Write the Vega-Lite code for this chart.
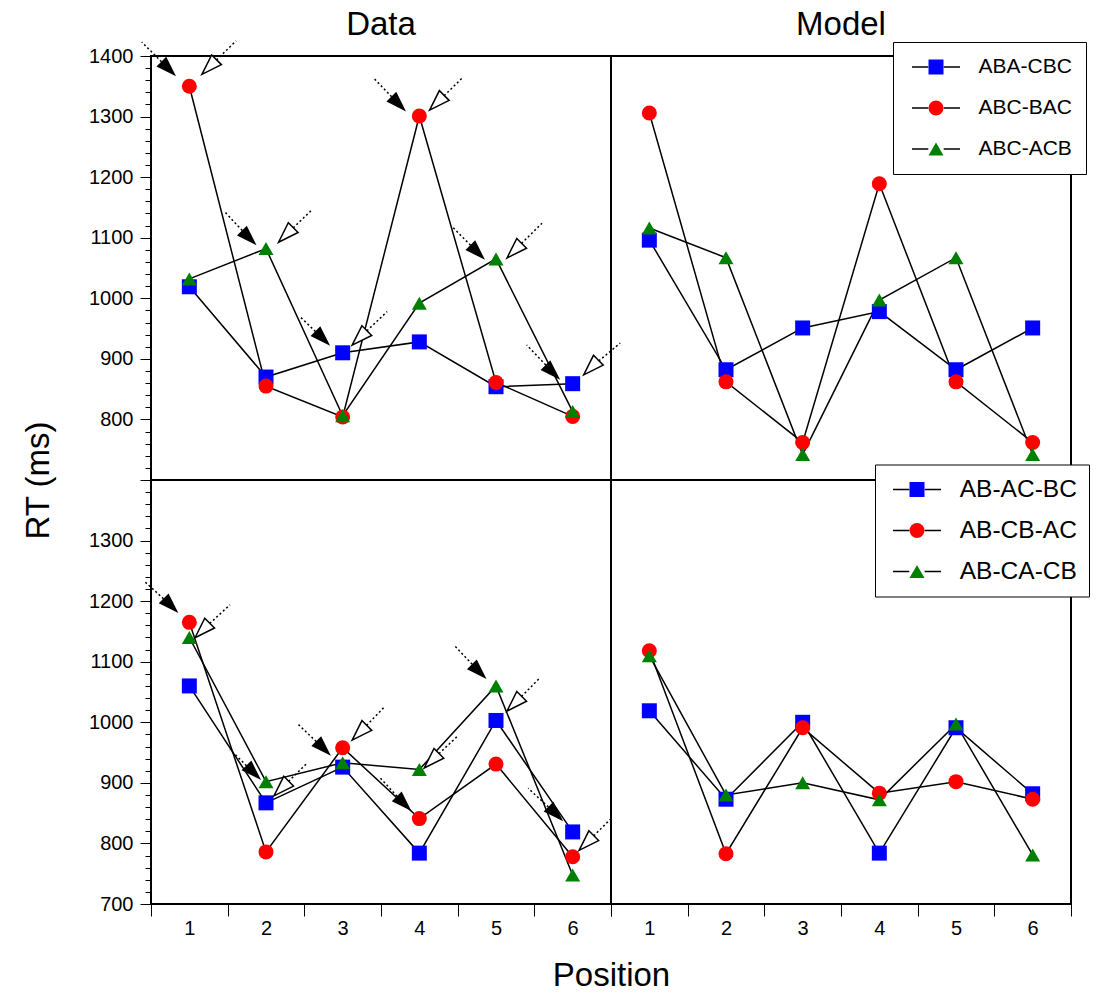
{
  "$schema": "https://vega.github.io/schema/vega-lite/v6.json",
  "padding": {"left": 21, "top": 7, "right": 5, "bottom": 10},
  "background": "white",
  "config": {
    "font": "Liberation Sans",
    "view": {"stroke": "black", "strokeWidth": 2},
    "axis": {"labelColor": "black", "tickColor": "black", "titleColor": "black", "grid": false, "domain": false, "labelFont": "Liberation Sans", "titleFont": "Liberation Sans", "titleFontWeight": "normal", "tickWidth": 1, "labelOverlap": false, "labelBound": false, "labelFlush": false},
    "title": {"font": "Liberation Sans", "fontWeight": "normal", "fontSize": 33, "color": "black"},
    "legend": {"labelFont": "Liberation Sans", "labelColor": "black"}
  },
  "datasets": {
    "topData": [
      {"series": "ABA-CBC", "pos": 1, "rt": 1019}, {"series": "ABA-CBC", "pos": 2, "rt": 870}, {"series": "ABA-CBC", "pos": 3, "rt": 910},
      {"series": "ABA-CBC", "pos": 4, "rt": 928}, {"series": "ABA-CBC", "pos": 5, "rt": 854}, {"series": "ABA-CBC", "pos": 6, "rt": 859},
      {"series": "ABC-BAC", "pos": 1, "rt": 1350}, {"series": "ABC-BAC", "pos": 2, "rt": 855}, {"series": "ABC-BAC", "pos": 3, "rt": 804},
      {"series": "ABC-BAC", "pos": 4, "rt": 1301}, {"series": "ABC-BAC", "pos": 5, "rt": 861}, {"series": "ABC-BAC", "pos": 6, "rt": 805},
      {"series": "ABC-ACB", "pos": 1, "rt": 1032}, {"series": "ABC-ACB", "pos": 2, "rt": 1082}, {"series": "ABC-ACB", "pos": 3, "rt": 806},
      {"series": "ABC-ACB", "pos": 4, "rt": 992}, {"series": "ABC-ACB", "pos": 5, "rt": 1065}, {"series": "ABC-ACB", "pos": 6, "rt": 813}
    ],
    "topModel": [
      {"series": "ABA-CBC", "pos": 1, "rt": 1096}, {"series": "ABA-CBC", "pos": 2, "rt": 882}, {"series": "ABA-CBC", "pos": 3, "rt": 951},
      {"series": "ABA-CBC", "pos": 4, "rt": 978}, {"series": "ABA-CBC", "pos": 5, "rt": 882}, {"series": "ABA-CBC", "pos": 6, "rt": 951},
      {"series": "ABC-BAC", "pos": 1, "rt": 1306}, {"series": "ABC-BAC", "pos": 2, "rt": 862}, {"series": "ABC-BAC", "pos": 3, "rt": 762},
      {"series": "ABC-BAC", "pos": 4, "rt": 1189}, {"series": "ABC-BAC", "pos": 5, "rt": 862}, {"series": "ABC-BAC", "pos": 6, "rt": 762},
      {"series": "ABC-ACB", "pos": 1, "rt": 1116}, {"series": "ABC-ACB", "pos": 2, "rt": 1067}, {"series": "ABC-ACB", "pos": 3, "rt": 742},
      {"series": "ABC-ACB", "pos": 4, "rt": 997}, {"series": "ABC-ACB", "pos": 5, "rt": 1067}, {"series": "ABC-ACB", "pos": 6, "rt": 742}
    ],
    "botData": [
      {"series": "AB-AC-BC", "pos": 1, "rt": 1060}, {"series": "AB-AC-BC", "pos": 2, "rt": 867}, {"series": "AB-AC-BC", "pos": 3, "rt": 926},
      {"series": "AB-AC-BC", "pos": 4, "rt": 784}, {"series": "AB-AC-BC", "pos": 5, "rt": 1003}, {"series": "AB-AC-BC", "pos": 6, "rt": 819},
      {"series": "AB-CB-AC", "pos": 1, "rt": 1165}, {"series": "AB-CB-AC", "pos": 2, "rt": 786}, {"series": "AB-CB-AC", "pos": 3, "rt": 958},
      {"series": "AB-CB-AC", "pos": 4, "rt": 841}, {"series": "AB-CB-AC", "pos": 5, "rt": 931}, {"series": "AB-CB-AC", "pos": 6, "rt": 778},
      {"series": "AB-CA-CB", "pos": 1, "rt": 1140}, {"series": "AB-CA-CB", "pos": 2, "rt": 902}, {"series": "AB-CA-CB", "pos": 3, "rt": 933},
      {"series": "AB-CA-CB", "pos": 4, "rt": 922}, {"series": "AB-CA-CB", "pos": 5, "rt": 1060}, {"series": "AB-CA-CB", "pos": 6, "rt": 748}
    ],
    "botModel": [
      {"series": "AB-AC-BC", "pos": 1, "rt": 1019}, {"series": "AB-AC-BC", "pos": 2, "rt": 873}, {"series": "AB-AC-BC", "pos": 3, "rt": 1000},
      {"series": "AB-AC-BC", "pos": 4, "rt": 784}, {"series": "AB-AC-BC", "pos": 5, "rt": 991}, {"series": "AB-AC-BC", "pos": 6, "rt": 882},
      {"series": "AB-CB-AC", "pos": 1, "rt": 1118}, {"series": "AB-CB-AC", "pos": 2, "rt": 783}, {"series": "AB-CB-AC", "pos": 3, "rt": 991},
      {"series": "AB-CB-AC", "pos": 4, "rt": 883}, {"series": "AB-CB-AC", "pos": 5, "rt": 902}, {"series": "AB-CB-AC", "pos": 6, "rt": 873},
      {"series": "AB-CA-CB", "pos": 1, "rt": 1110}, {"series": "AB-CA-CB", "pos": 2, "rt": 880}, {"series": "AB-CA-CB", "pos": 3, "rt": 900},
      {"series": "AB-CA-CB", "pos": 4, "rt": 872}, {"series": "AB-CA-CB", "pos": 5, "rt": 997}, {"series": "AB-CA-CB", "pos": 6, "rt": 781}
    ],
    "arrowsTop": [
      {"kind": "filled", "x": 0.72, "y": 1380, "tx": 0.38, "ty": 1423},
      {"kind": "filled", "x": 1.77, "y": 1101, "tx": 1.46, "ty": 1143},
      {"kind": "filled", "x": 2.73, "y": 935, "tx": 2.44, "ty": 970},
      {"kind": "filled", "x": 3.72, "y": 1322, "tx": 3.4, "ty": 1364},
      {"kind": "filled", "x": 4.75, "y": 1077, "tx": 4.43, "ty": 1118},
      {"kind": "filled", "x": 5.73, "y": 879, "tx": 5.4, "ty": 923},
      {"kind": "open", "x": 1.27, "y": 1383, "tx": 1.61, "ty": 1425},
      {"kind": "open", "x": 2.27, "y": 1106, "tx": 2.6, "ty": 1146},
      {"kind": "open", "x": 3.23, "y": 936, "tx": 3.58, "ty": 978},
      {"kind": "open", "x": 4.24, "y": 1324, "tx": 4.57, "ty": 1365},
      {"kind": "open", "x": 5.25, "y": 1080, "tx": 5.6, "ty": 1124},
      {"kind": "open", "x": 6.25, "y": 887, "tx": 6.62, "ty": 926}
    ],
    "arrowsBot": [
      {"kind": "filled", "x": 0.75, "y": 1194, "tx": 0.42, "ty": 1232},
      {"kind": "filled", "x": 1.83, "y": 918, "tx": 1.53, "ty": 955},
      {"kind": "filled", "x": 2.74, "y": 958, "tx": 2.4, "ty": 999},
      {"kind": "filled", "x": 3.79, "y": 867, "tx": 3.49, "ty": 908},
      {"kind": "filled", "x": 4.77, "y": 1085, "tx": 4.47, "ty": 1125},
      {"kind": "filled", "x": 5.77, "y": 850, "tx": 5.42, "ty": 891},
      {"kind": "open", "x": 1.18, "y": 1153, "tx": 1.53, "ty": 1194},
      {"kind": "open", "x": 2.21, "y": 892, "tx": 2.54, "ty": 933},
      {"kind": "open", "x": 3.23, "y": 984, "tx": 3.55, "ty": 1026},
      {"kind": "open", "x": 4.17, "y": 938, "tx": 4.49, "ty": 976},
      {"kind": "open", "x": 5.25, "y": 1032, "tx": 5.57, "ty": 1073},
      {"kind": "open", "x": 6.19, "y": 802, "tx": 6.51, "ty": 842}
    ]
  },
  "columns": 2,
  "spacing": 0,
  "bounds": "flush",
  "resolve": {"scale": {"x": "independent", "y": "independent", "fill": "independent", "shape": "independent", "stroke": "independent"}},
  "concat": [
    {
      "width": 460, "height": 424,
      "title": {"text": "Data", "offset": -2},
      "resolve": {"axis": {"x": "independent", "y": "independent"}},
      "layer": [
        {
          "data": {"name": "topData"},
          "mark": {"type": "line", "color": "black", "strokeWidth": 1.5},
          "encoding": {
            "x": {"field": "pos", "type": "quantitative", "scale": {"domain": [0.5, 6.5], "nice": false, "zero": false}, "axis": null},
            "y": {"field": "rt", "type": "quantitative", "scale": {"domain": [700, 1400], "nice": false, "zero": false},
              "axis": {"orient": "left", "values": [700, 720, 740, 760, 780, 800, 820, 840, 860, 880, 900, 920, 940, 960, 980, 1000, 1020, 1040, 1060, 1080, 1100, 1120, 1140, 1160, 1180, 1200, 1220, 1240, 1260, 1280, 1300, 1320, 1340, 1360, 1380, 1400], "labels": false, "tickSize": 6, "title": null}},
            "detail": {"field": "series"}
          }
        },
        {
          "data": {"name": "topData"},
          "mark": {"type": "point", "filled": true, "opacity": 1, "size": 225},
          "encoding": {
            "x": {"field": "pos", "type": "quantitative", "scale": {"domain": [0.5, 6.5], "nice": false, "zero": false}, "axis": null},
            "y": {"field": "rt", "type": "quantitative", "scale": {"domain": [700, 1400], "nice": false, "zero": false},
              "axis": {"orient": "left", "values": [800, 900, 1000, 1100, 1200, 1300, 1400], "format": "d", "tickSize": 11, "labelFontSize": 20, "labelPadding": 7,
                "title": "RT (ms)", "titleFontSize": 33, "titleX": -113, "titleY": 424, "titleBaseline": "middle", "titleAngle": -90, "titleAlign": "center"}},
            "fill": {"field": "series", "type": "nominal", "scale": {"domain": ["ABA-CBC", "ABC-BAC", "ABC-ACB"], "range": ["#0000ff", "#ff0000", "#008000"]}, "legend": null},
            "shape": {"field": "series", "type": "nominal", "scale": {"domain": ["ABA-CBC", "ABC-BAC", "ABC-ACB"], "range": ["square", "circle", "triangle-up"]}, "legend": null}
          }
        },
        {
          "data": {"name": "arrowsTop"},
          "mark": {"type": "rule", "color": "black", "strokeWidth": 1.5, "strokeDash": [2, 2.5]},
          "encoding": {
            "x": {"field": "x", "type": "quantitative", "scale": {"domain": [0.5, 6.5], "nice": false, "zero": false}, "axis": null},
            "y": {"field": "y", "type": "quantitative", "scale": {"domain": [700, 1400], "nice": false, "zero": false},
              "axis": {"orient": "left", "values": [700], "labels": false, "tickSize": 11, "title": null}},
            "x2": {"field": "tx"},
            "y2": {"field": "ty"}
          }
        },
        {
          "data": {"name": "arrowsTop"},
          "transform": [{"filter": "datum.kind === 'filled'"}],
          "mark": {"type": "point", "shape": "M0,-1L0.6,0.8L-0.6,0.8Z", "filled": true, "fill": "black", "opacity": 1, "size": 530, "angle": 135, "strokeWidth": 0},
          "encoding": {
            "x": {"field": "x", "type": "quantitative", "scale": {"domain": [0.5, 6.5], "nice": false, "zero": false}, "axis": null},
            "y": {"field": "y", "type": "quantitative", "scale": {"domain": [700, 1400], "nice": false, "zero": false}, "axis": null}
          }
        },
        {
          "data": {"name": "arrowsTop"},
          "transform": [{"filter": "datum.kind === 'open'"}],
          "mark": {"type": "point", "shape": "M0,-1L0.6,0.8L-0.6,0.8Z", "filled": true, "fill": "white", "stroke": "black", "strokeWidth": 1.5, "opacity": 1, "size": 530, "angle": 225},
          "encoding": {
            "x": {"field": "x", "type": "quantitative", "scale": {"domain": [0.5, 6.5], "nice": false, "zero": false}, "axis": null},
            "y": {"field": "y", "type": "quantitative", "scale": {"domain": [700, 1400], "nice": false, "zero": false}, "axis": null}
          }
        }
      ]
    },
    {
      "width": 460, "height": 424,
      "title": {"text": "Model", "offset": 0},
      "layer": [
        {
          "data": {"name": "topModel"},
          "mark": {"type": "line", "strokeWidth": 1.5},
          "encoding": {
            "x": {"field": "pos", "type": "quantitative", "scale": {"domain": [0.5, 6.5], "nice": false, "zero": false}, "axis": null},
            "y": {"field": "rt", "type": "quantitative", "scale": {"domain": [700, 1400], "nice": false, "zero": false}, "axis": null},
            "stroke": {"field": "series", "type": "nominal", "scale": {"range": ["black"]},
              "legend": {"orient": "none", "legendX": 286, "legendY": -14, "padding": 14, "clipHeight": 22, "title": null, "symbolType": "M-1,0H-0.32M0.32,0H1", "symbolSize": 2304, "symbolStrokeWidth": 1.5, "symbolStrokeColor": "black", "labelExpr": "''", "labelFontSize": 21, "rowPadding": 19, "zindex": 5}}
          }
        },
        {
          "data": {"name": "topModel"},
          "mark": {"type": "point", "filled": true, "opacity": 1, "size": 225},
          "encoding": {
            "x": {"field": "pos", "type": "quantitative", "scale": {"domain": [0.5, 6.5], "nice": false, "zero": false}},
            "y": {"field": "rt", "type": "quantitative", "scale": {"domain": [700, 1400], "nice": false, "zero": false}},
            "fill": {"field": "series", "type": "nominal", "scale": {"domain": ["ABA-CBC", "ABC-BAC", "ABC-ACB"], "range": ["#0000ff", "#ff0000", "#008000"]},
              "legend": {"orient": "none", "legendX": 282, "legendY": -14, "padding": 14, "clipHeight": 22, "title": null, "strokeColor": "black", "fillColor": "white", "labelFontSize": 21, "labelOffset": 32, "symbolOffset": 18.5, "rowPadding": 19, "symbolSize": 225, "symbolOpacity": 1, "symbolStrokeWidth": 0, "zindex": 4}},
            "shape": {"field": "series", "type": "nominal", "scale": {"domain": ["ABA-CBC", "ABC-BAC", "ABC-ACB"], "range": ["square", "circle", "triangle-up"]},
              "legend": {"orient": "none", "legendX": 282, "legendY": -14, "padding": 14, "clipHeight": 22, "title": null, "strokeColor": "black", "fillColor": "white", "labelFontSize": 21, "labelOffset": 32, "symbolOffset": 18.5, "rowPadding": 19, "symbolSize": 225, "symbolOpacity": 1, "symbolStrokeWidth": 0, "zindex": 4}}
          }
        }
      ]
    },
    {
      "width": 460, "height": 424,
      "resolve": {"axis": {"x": "independent", "y": "independent"}},
      "layer": [
        {
          "data": {"name": "botData"},
          "mark": {"type": "line", "color": "black", "strokeWidth": 1.5},
          "encoding": {
            "x": {"field": "pos", "type": "quantitative", "scale": {"domain": [0.5, 6.5], "nice": false, "zero": false},
              "axis": {"orient": "bottom", "values": [0.5, 1.5, 2.5, 3.5, 4.5, 5.5, 6.5], "labels": false, "tickSize": 12, "title": null}},
            "y": {"field": "rt", "type": "quantitative", "scale": {"domain": [700, 1400], "nice": false, "zero": false},
              "axis": {"orient": "left", "values": [700, 720, 740, 760, 780, 800, 820, 840, 860, 880, 900, 920, 940, 960, 980, 1000, 1020, 1040, 1060, 1080, 1100, 1120, 1140, 1160, 1180, 1200, 1220, 1240, 1260, 1280, 1300, 1320, 1340, 1360, 1380, 1400], "labels": false, "tickSize": 6, "title": null}},
            "detail": {"field": "series"}
          }
        },
        {
          "data": {"name": "botData"},
          "mark": {"type": "point", "filled": true, "opacity": 1, "size": 225},
          "encoding": {
            "x": {"field": "pos", "type": "quantitative", "scale": {"domain": [0.5, 6.5], "nice": false, "zero": false},
              "axis": {"orient": "bottom", "values": [1, 2, 3, 4, 5, 6], "format": "d", "ticks": false, "labelFontSize": 20, "labelPadding": 14,
                "title": "Position", "titleFontSize": 33, "titleX": 460, "titleY": 71, "titleBaseline": "middle", "titleAlign": "center"}},
            "y": {"field": "rt", "type": "quantitative", "scale": {"domain": [700, 1400], "nice": false, "zero": false},
              "axis": {"orient": "left", "values": [700, 800, 900, 1000, 1100, 1200, 1300], "format": "d", "tickSize": 11, "labelFontSize": 20, "labelPadding": 7, "title": null}},
            "fill": {"field": "series", "type": "nominal", "scale": {"domain": ["AB-AC-BC", "AB-CB-AC", "AB-CA-CB"], "range": ["#0000ff", "#ff0000", "#008000"]}, "legend": null},
            "shape": {"field": "series", "type": "nominal", "scale": {"domain": ["AB-AC-BC", "AB-CB-AC", "AB-CA-CB"], "range": ["square", "circle", "triangle-up"]}, "legend": null}
          }
        },
        {
          "data": {"name": "arrowsBot"},
          "mark": {"type": "rule", "color": "black", "strokeWidth": 1.5, "strokeDash": [2, 2.5]},
          "encoding": {
            "x": {"field": "x", "type": "quantitative", "scale": {"domain": [0.5, 6.5], "nice": false, "zero": false}, "axis": null},
            "y": {"field": "y", "type": "quantitative", "scale": {"domain": [700, 1400], "nice": false, "zero": false}, "axis": null},
            "x2": {"field": "tx"},
            "y2": {"field": "ty"}
          }
        },
        {
          "data": {"name": "arrowsBot"},
          "transform": [{"filter": "datum.kind === 'filled'"}],
          "mark": {"type": "point", "shape": "M0,-1L0.6,0.8L-0.6,0.8Z", "filled": true, "fill": "black", "opacity": 1, "size": 530, "angle": 135, "strokeWidth": 0},
          "encoding": {
            "x": {"field": "x", "type": "quantitative", "scale": {"domain": [0.5, 6.5], "nice": false, "zero": false}, "axis": null},
            "y": {"field": "y", "type": "quantitative", "scale": {"domain": [700, 1400], "nice": false, "zero": false}, "axis": null}
          }
        },
        {
          "data": {"name": "arrowsBot"},
          "transform": [{"filter": "datum.kind === 'open'"}],
          "mark": {"type": "point", "shape": "M0,-1L0.6,0.8L-0.6,0.8Z", "filled": true, "fill": "white", "stroke": "black", "strokeWidth": 1.5, "opacity": 1, "size": 530, "angle": 225},
          "encoding": {
            "x": {"field": "x", "type": "quantitative", "scale": {"domain": [0.5, 6.5], "nice": false, "zero": false}, "axis": null},
            "y": {"field": "y", "type": "quantitative", "scale": {"domain": [700, 1400], "nice": false, "zero": false}, "axis": null}
          }
        }
      ]
    },
    {
      "width": 460, "height": 424,
      "resolve": {"axis": {"x": "independent", "y": "independent"}},
      "layer": [
        {
          "data": {"name": "botModel"},
          "mark": {"type": "line", "strokeWidth": 1.5},
          "encoding": {
            "x": {"field": "pos", "type": "quantitative", "scale": {"domain": [0.5, 6.5], "nice": false, "zero": false},
              "axis": {"orient": "bottom", "values": [0.5, 1.5, 2.5, 3.5, 4.5, 5.5, 6.5], "labels": false, "tickSize": 12, "title": null}},
            "y": {"field": "rt", "type": "quantitative", "scale": {"domain": [700, 1400], "nice": false, "zero": false}, "axis": null},
            "stroke": {"field": "series", "type": "nominal", "scale": {"range": ["black"]},
              "legend": {"orient": "none", "legendX": 269, "legendY": -15.5, "padding": 12, "clipHeight": 26, "title": null, "symbolType": "M-1,0H-0.32M0.32,0H1", "symbolSize": 2304, "symbolStrokeWidth": 1.5, "symbolStrokeColor": "black", "labelExpr": "''", "labelFontSize": 24.5, "rowPadding": 15, "zindex": 5}}
          }
        },
        {
          "data": {"name": "botModel"},
          "mark": {"type": "point", "filled": true, "opacity": 1, "size": 225},
          "encoding": {
            "x": {"field": "pos", "type": "quantitative", "scale": {"domain": [0.5, 6.5], "nice": false, "zero": false},
              "axis": {"orient": "bottom", "values": [1, 2, 3, 4, 5, 6], "format": "d", "ticks": false, "labelFontSize": 20, "labelPadding": 14, "title": null}},
            "y": {"field": "rt", "type": "quantitative", "scale": {"domain": [700, 1400], "nice": false, "zero": false}, "axis": null},
            "fill": {"field": "series", "type": "nominal", "scale": {"domain": ["AB-AC-BC", "AB-CB-AC", "AB-CA-CB"], "range": ["#0000ff", "#ff0000", "#008000"]},
              "legend": {"orient": "none", "legendX": 264, "legendY": -15.5, "padding": 12, "clipHeight": 26, "title": null, "strokeColor": "black", "fillColor": "white", "labelFontSize": 24.5, "labelOffset": 30.5, "symbolOffset": 17.75, "rowPadding": 15, "symbolSize": 225, "symbolOpacity": 1, "symbolStrokeWidth": 0, "zindex": 4}},
            "shape": {"field": "series", "type": "nominal", "scale": {"domain": ["AB-AC-BC", "AB-CB-AC", "AB-CA-CB"], "range": ["square", "circle", "triangle-up"]},
              "legend": {"orient": "none", "legendX": 264, "legendY": -15.5, "padding": 12, "clipHeight": 26, "title": null, "strokeColor": "black", "fillColor": "white", "labelFontSize": 24.5, "labelOffset": 30.5, "symbolOffset": 17.75, "rowPadding": 15, "symbolSize": 225, "symbolOpacity": 1, "symbolStrokeWidth": 0, "zindex": 4}}
          }
        }
      ]
    }
  ]
}
